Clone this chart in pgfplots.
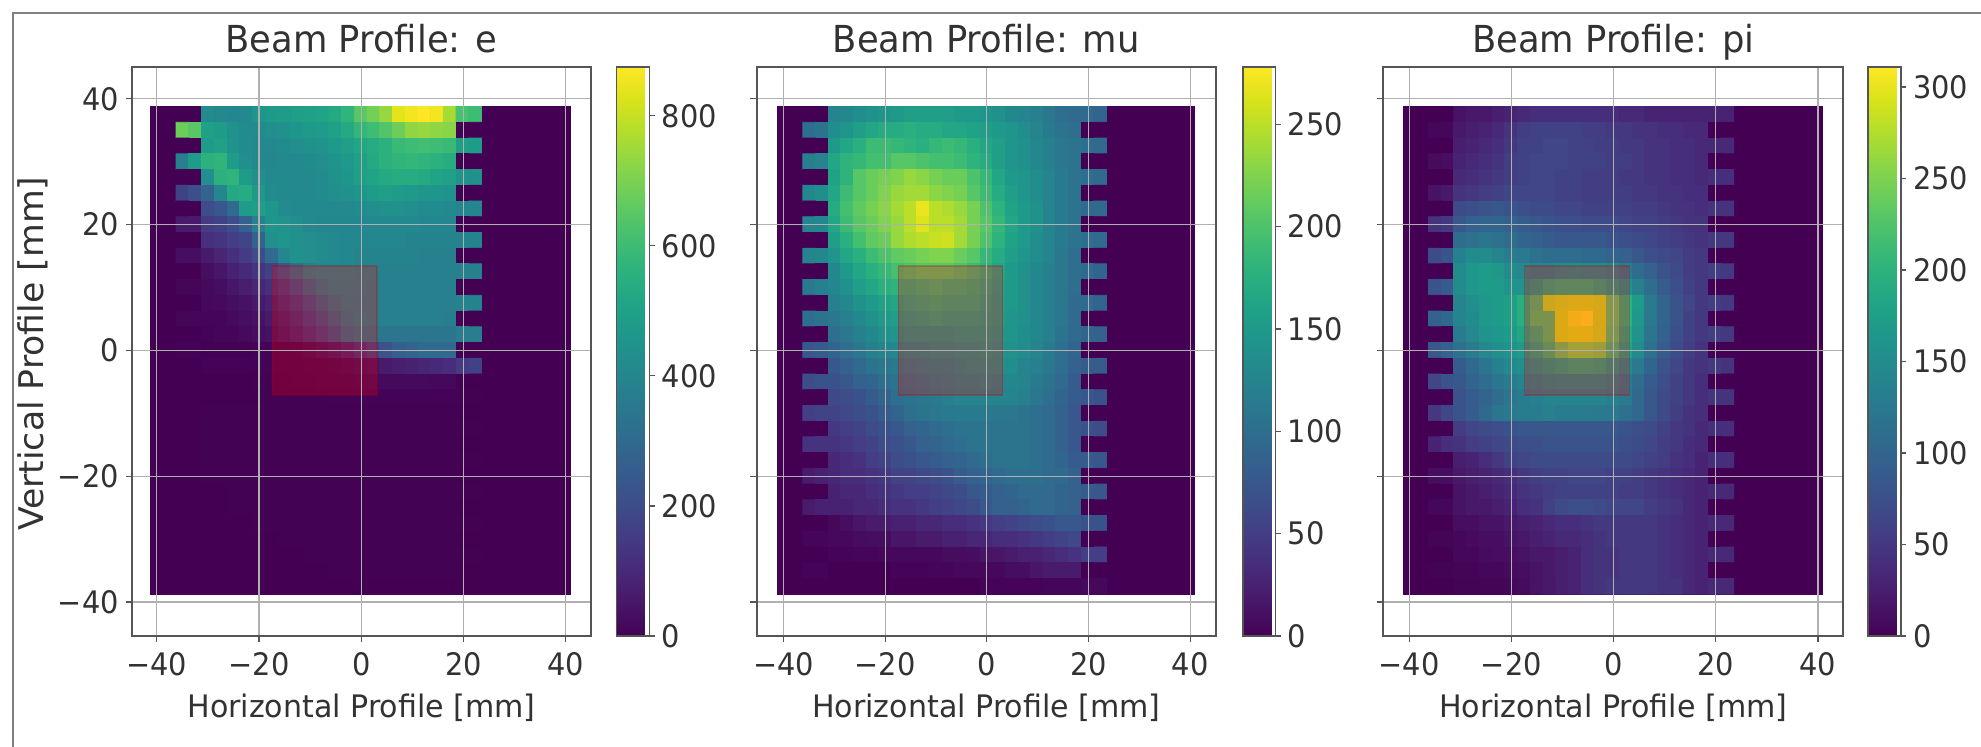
\documentclass[border=0pt]{standalone}
\usepackage{fontspec}
\usepackage{pgfplots}
\usepackage{pgfplotstable}
\pgfplotsset{compat=1.18}
\setmainfont{DejaVu Sans}[FakeStretch=0.97]
\newfontfamily\titf{DejaVu Sans}[FakeStretch=0.95]
\newfontfamily\tickf{DejaVu Sans}[FakeStretch=0.93]
\newfontfamily\vertf{DejaVu Sans}[FakeStretch=1.02]
\newcommand\ft{\tickf\fontsize{15.5}{18}\selectfont}
\newcommand\fl{\fontsize{15.5}{18}\selectfont}
\newcommand\ftit{\titf\fontsize{18.6}{22}\selectfont}
\definecolor{vir0}{RGB}{68,1,84}
\definecolor{gridc}{RGB}{176,176,176}
\definecolor{axc}{RGB}{85,85,85}
\definecolor{txtc}{RGB}{50,50,50}

\pgfplotstableread[row sep=crcr,header=false]{
0\\0\\420\\410\\400\\410\\460\\470\\480\\490\\500\\510\\530\\570\\650\\690\\740\\840\\860\\875\\860\\760\\620\\600\\
680\\650\\500\\480\\440\\420\\420\\430\\440\\460\\470\\480\\500\\530\\580\\600\\640\\680\\730\\740\\730\\720\\0\\0\\
0\\0\\480\\500\\450\\420\\410\\410\\420\\430\\440\\450\\470\\490\\520\\540\\560\\590\\600\\610\\600\\590\\490\\480\\
380\\480\\560\\570\\480\\430\\410\\400\\410\\410\\420\\430\\450\\470\\500\\530\\560\\570\\580\\570\\560\\540\\0\\0\\
0\\0\\430\\560\\570\\480\\430\\410\\410\\410\\410\\420\\440\\460\\490\\510\\530\\540\\540\\530\\510\\500\\450\\440\\
170\\210\\280\\400\\530\\540\\470\\420\\410\\410\\410\\420\\430\\440\\460\\480\\490\\480\\470\\460\\460\\450\\0\\0\\
0\\0\\200\\240\\300\\480\\490\\460\\420\\410\\410\\410\\410\\410\\420\\430\\440\\440\\430\\420\\420\\410\\400\\400\\
60\\60\\150\\170\\200\\270\\380\\460\\450\\430\\410\\400\\400\\400\\400\\410\\410\\410\\410\\400\\400\\400\\0\\0\\
0\\0\\120\\130\\160\\180\\280\\430\\460\\440\\430\\420\\410\\400\\400\\400\\400\\400\\390\\390\\390\\390\\390\\390\\
30\\30\\60\\90\\120\\150\\200\\300\\400\\440\\430\\420\\410\\400\\390\\390\\390\\390\\390\\380\\380\\380\\0\\0\\
0\\0\\30\\50\\80\\100\\130\\170\\230\\310\\380\\400\\400\\400\\390\\390\\380\\380\\380\\380\\380\\380\\380\\380\\
10\\10\\20\\30\\50\\70\\90\\120\\160\\220\\300\\360\\390\\390\\390\\380\\380\\380\\380\\380\\380\\380\\0\\0\\
0\\0\\15\\20\\30\\40\\60\\80\\110\\160\\220\\290\\350\\380\\380\\380\\380\\380\\380\\380\\380\\380\\390\\390\\
10\\10\\10\\10\\20\\30\\40\\60\\80\\120\\170\\230\\300\\360\\390\\380\\380\\380\\380\\380\\380\\370\\0\\0\\
0\\0\\5\\10\\10\\20\\30\\40\\60\\90\\130\\180\\240\\320\\350\\350\\340\\340\\340\\340\\340\\340\\370\\370\\
5\\5\\0\\0\\0\\0\\5\\5\\5\\10\\20\\40\\60\\90\\130\\180\\220\\260\\280\\300\\300\\300\\0\\0\\
0\\0\\5\\5\\5\\5\\5\\5\\5\\5\\10\\10\\15\\20\\30\\40\\60\\70\\80\\90\\100\\110\\150\\170\\
0\\0\\0\\0\\0\\0\\2\\2\\3\\5\\5\\8\\10\\12\\15\\18\\20\\20\\20\\20\\15\\15\\0\\0\\
0\\0\\0\\0\\0\\0\\0\\2\\2\\2\\3\\3\\5\\5\\5\\5\\5\\5\\5\\5\\5\\5\\2\\2\\
0\\0\\1\\1\\1\\1\\1\\1\\1\\2\\2\\2\\2\\2\\2\\2\\2\\2\\2\\2\\2\\2\\0\\0\\
0\\0\\1\\1\\1\\1\\1\\1\\1\\1\\2\\2\\2\\2\\2\\2\\2\\2\\2\\2\\2\\2\\1\\1\\
0\\0\\1\\1\\1\\1\\1\\1\\1\\1\\1\\2\\2\\2\\2\\2\\2\\2\\2\\2\\2\\2\\0\\0\\
0\\0\\1\\1\\1\\1\\1\\1\\1\\1\\1\\1\\2\\2\\2\\2\\2\\2\\2\\2\\2\\2\\1\\1\\
0\\0\\1\\1\\1\\1\\1\\1\\1\\1\\1\\1\\1\\1\\2\\2\\2\\2\\2\\2\\2\\2\\0\\0\\
0\\0\\0\\0\\1\\1\\1\\1\\1\\1\\1\\1\\1\\1\\1\\1\\1\\1\\1\\1\\1\\1\\1\\1\\
0\\0\\0\\0\\1\\1\\1\\1\\1\\1\\1\\1\\1\\1\\1\\1\\1\\1\\1\\1\\1\\1\\0\\0\\
0\\0\\0\\0\\0\\0\\1\\1\\1\\1\\1\\1\\1\\1\\1\\1\\1\\1\\1\\1\\1\\1\\1\\1\\
0\\0\\0\\0\\0\\0\\0\\0\\1\\1\\1\\1\\1\\1\\1\\1\\1\\1\\1\\1\\1\\1\\0\\0\\
0\\0\\0\\0\\0\\0\\0\\0\\0\\0\\1\\1\\1\\1\\1\\1\\1\\1\\1\\1\\1\\1\\1\\1\\
0\\0\\0\\0\\0\\0\\0\\0\\0\\0\\0\\0\\1\\1\\1\\1\\1\\1\\1\\1\\1\\1\\0\\0\\
0\\0\\0\\0\\0\\0\\0\\0\\0\\0\\0\\0\\0\\0\\0\\0\\0\\0\\0\\0\\0\\0\\0\\0\\
}\dataE

\pgfplotstableread[row sep=crcr,header=false]{
0\\0\\125\\130\\135\\140\\145\\150\\155\\155\\155\\155\\150\\150\\145\\140\\130\\125\\120\\110\\100\\95\\95\\90\\
100\\105\\135\\145\\155\\165\\170\\170\\175\\170\\170\\165\\165\\160\\155\\150\\145\\135\\125\\115\\105\\100\\0\\0\\
0\\0\\150\\165\\175\\190\\190\\185\\180\\175\\185\\190\\185\\175\\165\\155\\145\\140\\130\\120\\110\\105\\100\\95\\
120\\125\\165\\180\\185\\195\\195\\205\\205\\200\\195\\195\\190\\180\\170\\155\\145\\140\\130\\120\\110\\105\\0\\0\\
0\\0\\160\\180\\205\\215\\220\\225\\235\\230\\220\\215\\215\\200\\185\\165\\150\\145\\135\\125\\115\\105\\100\\95\\
130\\135\\165\\190\\205\\215\\225\\235\\240\\240\\230\\225\\220\\205\\190\\170\\155\\145\\135\\125\\115\\105\\0\\0\\
0\\0\\170\\195\\210\\220\\230\\240\\250\\270\\250\\245\\235\\220\\200\\180\\160\\150\\140\\125\\115\\105\\95\\95\\
125\\130\\165\\190\\205\\215\\225\\235\\250\\265\\250\\250\\240\\220\\205\\185\\165\\150\\140\\125\\115\\105\\0\\0\\
0\\0\\155\\175\\195\\210\\215\\235\\245\\250\\255\\258\\240\\220\\200\\180\\160\\150\\135\\125\\115\\105\\100\\95\\
125\\130\\145\\165\\175\\190\\200\\210\\215\\220\\225\\225\\215\\205\\185\\170\\155\\145\\135\\125\\110\\100\\0\\0\\
0\\0\\130\\150\\165\\175\\185\\195\\200\\205\\205\\205\\200\\190\\180\\165\\150\\140\\130\\120\\110\\100\\95\\90\\
115\\120\\130\\140\\155\\165\\175\\180\\180\\185\\190\\185\\185\\180\\170\\160\\150\\140\\130\\120\\110\\100\\0\\0\\
0\\0\\120\\130\\140\\150\\160\\165\\170\\175\\180\\175\\175\\175\\165\\155\\150\\140\\130\\120\\110\\95\\95\\90\\
100\\105\\110\\120\\130\\140\\150\\155\\160\\165\\170\\165\\165\\165\\160\\155\\145\\140\\130\\120\\110\\95\\0\\0\\
0\\0\\100\\110\\120\\130\\140\\145\\150\\150\\150\\150\\155\\155\\155\\150\\145\\135\\130\\120\\105\\95\\90\\85\\
75\\80\\90\\100\\110\\120\\125\\130\\135\\135\\140\\140\\145\\145\\150\\145\\140\\135\\125\\115\\100\\90\\0\\0\\
0\\0\\75\\85\\95\\105\\110\\115\\120\\125\\130\\130\\135\\140\\140\\140\\135\\125\\120\\110\\100\\85\\80\\80\\
65\\70\\70\\75\\85\\90\\100\\105\\110\\115\\120\\125\\130\\130\\135\\130\\130\\125\\115\\105\\95\\80\\0\\0\\
0\\0\\60\\65\\70\\80\\90\\100\\105\\110\\115\\120\\125\\125\\125\\125\\125\\120\\110\\100\\90\\80\\75\\70\\
50\\55\\55\\60\\65\\70\\80\\90\\100\\105\\110\\115\\115\\115\\115\\110\\110\\105\\100\\95\\85\\75\\0\\0\\
0\\0\\45\\50\\55\\65\\70\\75\\85\\90\\95\\100\\105\\105\\105\\105\\105\\105\\100\\95\\85\\75\\70\\65\\
40\\40\\40\\45\\50\\55\\65\\70\\75\\85\\90\\95\\100\\105\\105\\105\\105\\105\\100\\95\\85\\75\\0\\0\\
0\\0\\30\\35\\40\\50\\55\\65\\70\\75\\80\\85\\90\\95\\100\\105\\105\\105\\100\\95\\90\\80\\80\\75\\
20\\25\\30\\35\\35\\40\\45\\55\\55\\60\\65\\70\\80\\85\\90\\95\\100\\100\\100\\95\\95\\85\\0\\0\\
0\\0\\25\\30\\30\\35\\40\\45\\50\\50\\55\\60\\65\\75\\80\\85\\90\\95\\95\\95\\90\\85\\80\\75\\
20\\25\\25\\25\\30\\30\\35\\40\\40\\45\\50\\55\\60\\65\\75\\85\\85\\90\\95\\95\\90\\85\\0\\0\\
0\\0\\5\\10\\15\\20\\20\\25\\25\\30\\30\\35\\35\\40\\45\\50\\55\\60\\65\\70\\75\\75\\70\\70\\
3\\3\\5\\5\\8\\10\\10\\15\\15\\20\\20\\25\\25\\30\\30\\35\\35\\40\\45\\50\\55\\60\\0\\0\\
0\\0\\2\\2\\3\\3\\5\\5\\5\\5\\5\\8\\8\\10\\15\\15\\20\\25\\25\\30\\35\\40\\50\\50\\
2\\2\\0\\0\\0\\0\\0\\2\\2\\2\\3\\3\\5\\5\\5\\5\\10\\10\\15\\20\\20\\20\\0\\0\\
0\\0\\0\\0\\0\\0\\0\\0\\0\\0\\0\\0\\0\\0\\2\\2\\2\\2\\2\\3\\3\\3\\5\\5\\
}\dataM

\pgfplotstableread[row sep=crcr,header=false]{
0\\0\\15\\20\\20\\25\\30\\35\\40\\40\\40\\40\\40\\40\\40\\35\\35\\30\\30\\30\\30\\30\\30\\30\\
5\\5\\20\\25\\30\\35\\45\\55\\60\\60\\60\\60\\55\\55\\50\\50\\45\\45\\40\\40\\35\\35\\0\\0\\
0\\0\\25\\30\\35\\40\\50\\60\\60\\65\\65\\60\\60\\55\\55\\50\\50\\45\\45\\40\\40\\35\\35\\35\\
8\\10\\30\\35\\40\\45\\55\\60\\65\\65\\65\\60\\60\\60\\55\\55\\50\\45\\45\\40\\40\\35\\0\\0\\
0\\0\\35\\40\\45\\50\\55\\60\\65\\65\\60\\60\\55\\55\\55\\50\\50\\45\\45\\40\\40\\35\\40\\40\\
15\\20\\45\\50\\55\\60\\65\\65\\65\\65\\60\\60\\55\\55\\55\\55\\50\\50\\45\\45\\40\\40\\0\\0\\
0\\0\\70\\75\\80\\85\\80\\75\\70\\70\\65\\65\\60\\60\\60\\60\\55\\55\\50\\45\\45\\40\\45\\45\\
45\\50\\85\\95\\100\\100\\95\\90\\85\\80\\75\\75\\70\\70\\70\\65\\60\\60\\55\\50\\45\\45\\0\\0\\
0\\0\\110\\115\\120\\115\\110\\100\\95\\90\\85\\85\\85\\85\\80\\75\\70\\65\\60\\55\\50\\45\\50\\50\\
70\\80\\135\\150\\150\\140\\130\\125\\115\\110\\110\\110\\105\\105\\100\\95\\85\\75\\70\\65\\55\\50\\0\\0\\
0\\0\\150\\165\\170\\165\\150\\145\\140\\140\\150\\155\\150\\150\\145\\130\\110\\95\\80\\70\\55\\50\\55\\50\\
80\\90\\150\\165\\170\\170\\160\\160\\175\\195\\200\\200\\200\\190\\175\\160\\135\\110\\90\\75\\60\\50\\0\\0\\
0\\0\\140\\155\\165\\170\\175\\195\\220\\280\\285\\290\\290\\285\\235\\200\\170\\125\\100\\80\\65\\50\\55\\50\\
95\\105\\140\\150\\165\\170\\175\\195\\225\\225\\290\\305\\311\\285\\235\\200\\165\\125\\100\\80\\60\\50\\0\\0\\
0\\0\\130\\145\\160\\165\\170\\185\\205\\225\\290\\295\\295\\285\\230\\190\\160\\120\\95\\75\\60\\50\\55\\50\\
85\\95\\115\\130\\145\\155\\160\\170\\190\\210\\240\\255\\255\\250\\215\\180\\150\\115\\90\\70\\55\\45\\0\\0\\
0\\0\\90\\105\\120\\135\\145\\155\\165\\175\\185\\195\\195\\190\\170\\150\\125\\100\\80\\65\\50\\45\\50\\45\\
65\\80\\85\\100\\110\\120\\130\\140\\145\\150\\155\\155\\155\\155\\145\\130\\110\\90\\75\\60\\50\\40\\0\\0\\
0\\0\\80\\90\\100\\110\\120\\130\\135\\140\\140\\140\\140\\140\\135\\125\\105\\85\\70\\60\\50\\40\\45\\45\\
50\\65\\80\\90\\105\\120\\125\\130\\130\\135\\130\\130\\130\\125\\125\\115\\105\\85\\70\\55\\45\\40\\0\\0\\
0\\0\\55\\65\\70\\75\\80\\85\\85\\85\\85\\85\\85\\85\\85\\80\\75\\70\\60\\50\\45\\35\\40\\40\\
30\\40\\45\\55\\60\\65\\70\\75\\75\\80\\80\\80\\80\\80\\80\\75\\70\\65\\55\\50\\40\\35\\0\\0\\
0\\0\\25\\30\\40\\50\\60\\65\\70\\70\\70\\70\\70\\70\\70\\70\\65\\60\\55\\45\\40\\30\\40\\40\\
10\\10\\20\\25\\30\\35\\40\\50\\55\\60\\60\\65\\65\\65\\60\\60\\55\\50\\45\\40\\35\\30\\0\\0\\
0\\0\\15\\20\\25\\30\\35\\45\\50\\55\\60\\60\\60\\60\\60\\55\\55\\50\\45\\40\\35\\30\\35\\35\\
5\\5\\15\\20\\20\\25\\30\\40\\45\\60\\70\\75\\75\\70\\65\\65\\65\\55\\50\\45\\35\\30\\0\\0\\
0\\0\\10\\10\\15\\15\\20\\25\\30\\35\\40\\40\\45\\50\\50\\50\\50\\50\\45\\40\\35\\30\\35\\35\\
3\\3\\5\\8\\10\\10\\15\\20\\25\\30\\35\\35\\40\\45\\50\\50\\50\\50\\45\\40\\35\\30\\0\\0\\
0\\0\\5\\5\\8\\10\\10\\15\\20\\20\\25\\30\\40\\45\\45\\50\\50\\50\\45\\40\\35\\30\\35\\35\\
2\\2\\3\\3\\5\\5\\8\\10\\15\\20\\25\\30\\40\\45\\45\\50\\50\\50\\45\\40\\35\\30\\0\\0\\
0\\0\\2\\2\\3\\3\\5\\8\\15\\20\\25\\30\\40\\45\\50\\50\\50\\50\\45\\45\\35\\30\\35\\35\\
}\dataP

\pgfplotsset{
  beam/.style={
    scale only axis, height=284.5pt, anchor=south west,
    ymin=-45.4, ymax=45.05,
    xtick={-40,-20,0,20,40}, xticklabels={−40,−20,0,20,40},
    ytick={-40,-20,0,20,40},
    grid=major, grid style={gridc,line width=0.6pt},
    axis on top, tick align=outside, tick pos=left,
    major tick length=3.2pt,
    tick style={axc,line width=0.6pt},
    axis line style={axc,line width=0.9pt},
    tick label style={font=\ft,text=txtc},
    xticklabel style={yshift=-1.5pt},
    label style={font=\fl,text=txtc},
    title style={font=\ftit,text=txtc,at={(axis description cs:0.5,1.004)},anchor=base},
    xlabel={Horizontal Profile [mm]},
    xlabel style={at={(axis description cs:0.5,-0.144)},anchor=base},
    colormap/viridis, colorbar,
  },
  cbar/.style={
    at={(parent axis.south east)}, anchor=south west, xshift=#1,
    scale only axis,
    tick pos=right, yticklabel pos=right,
    tick align=outside, major tick length=2.6pt,
    tick style={axc,line width=0.6pt},
    axis line style={axc,line width=0.6pt},
    tick label style={font=\ft,text=txtc},
  },
}
\newcommand\heat[1]{%
  \addplot[fill=vir0,draw=none,forget plot] coordinates {(-41.25,-38.82) (41,-38.82) (41,38.82) (-41.25,38.82)} --cycle;
  \addplot[matrix plot*,mesh/cols=24,mesh/ordering=x varies,point meta=explicit,forget plot]
    table[x index=0,y index=0,x expr={-41.2+2.49*(mod(\coordindex,24)+2.5)},y expr={37.5-2.5*floor((\coordindex+0.5)/24)},meta index=0] {#1};
  \addplot[fill=red,fill opacity=0.25,draw=red!70!black,draw opacity=0.25,line width=0.7pt,forget plot]
    coordinates {(-17.4,-7.1) (3.1,-7.1) (3.1,13.4) (-17.4,13.4)} --cycle;
}

\begin{document}
\begin{tikzpicture}[x=1pt,y=1pt]
\path[use as bounding box] (0,0) rectangle (990.5,373.5);
\draw[gray,line width=0.9pt] (6.5,0) -- (6.5,367) -- (990.5,367);

\begin{axis}[beam, at={(66.15pt,55.5pt)}, width=229.2pt,
  xmin=-44.8, xmax=44.9,
  yticklabels={−40,−20,0,20,40},
  title={Beam Profile: e},
  ylabel={\vertf\fontsize{17}{20}\selectfont Vertical Profile [mm]},
  ylabel style={at={(axis description cs:-0.194,0.496)},anchor=base},
  point meta min=0, point meta max=875,
  colorbar style={cbar=4.26pt, width=16.7pt, ytick={0,200,400,600,800}, yticklabels={0,200,400,600,800}},
]
\heat{\dataE}
\end{axis}

\begin{axis}[beam, at={(378.35pt,55.5pt)}, width=229.65pt,
  xmin=-45.3, xmax=45.1,
  yticklabels={},
  title={Beam Profile: mu},
  point meta min=0, point meta max=278,
  colorbar style={cbar=4.96pt, width=16.35pt, ytick={0,50,100,150,200,250}, yticklabels={0,50,100,150,200,250}},
]
\heat{\dataM}
\end{axis}

\begin{axis}[beam, at={(691.6pt,55.5pt)}, width=230pt,
  xmin=-45.07, xmax=44.95,
  yticklabels={},
  title={Beam Profile: pi},
  point meta min=0, point meta max=311,
  colorbar style={cbar=3.86pt, width=16.5pt, ytick={0,50,100,150,200,250,300}, yticklabels={0,50,100,150,200,250,300}},
]
\heat{\dataP}
\end{axis}
\end{tikzpicture}
\end{document}
